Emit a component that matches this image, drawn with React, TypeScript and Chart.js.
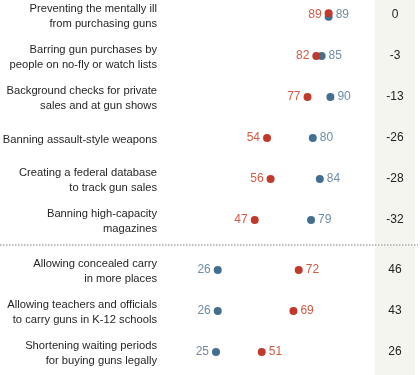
import React, { useEffect, useRef } from "react";
import { Chart, registerables } from "chart.js";

Chart.register(...registerables);

const categories: string[][] = [
  ["Preventing the mentally ill", "from purchasing guns"],
  ["Barring gun purchases by", "people on no-fly or watch lists"],
  ["Background checks for private", "sales and at gun shows"],
  ["Banning assault-style weapons"],
  ["Creating a federal database", "to track gun sales"],
  ["Banning high-capacity", "magazines"],
  ["Allowing concealed carry", "in more places"],
  ["Allowing teachers and officials", "to carry guns in K-12 schools"],
  ["Shortening waiting periods", "for buying guns legally"],
];
const repValues: number[] = [89, 82, 77, 54, 56, 47, 72, 69, 51];
const demValues: number[] = [89, 85, 90, 80, 84, 79, 26, 26, 25];
const diffLabels: string[] = ["0", "-3", "-13", "-26", "-28", "-32", "46", "43", "26"];
const groups: number[] = [0, 0, 0, 0, 0, 0, 1, 1, 1];

const GROUP_GAP = 0.22;
const TIE_NUDGE = 0.04;
const RED = "#c0392b";
const BLUE = "#436e8f";
const RED_TEXT = "#d45a44";
const BLUE_TEXT = "#6f8ca5";
const FONT = '"Liberation Sans", Arial, sans-serif';

const rowPos = categories.map((_, i) => i + groups[i] * GROUP_GAP);

export default function App() {
  const ref = useRef<HTMLCanvasElement | null>(null);

  useEffect(() => {
    if (!ref.current) return;
    const decor = {
      id: "decor",
      beforeDraw(chart: any) {
        const ctx = chart.ctx;
        const ys = chart.scales.y;
        ctx.save();
        ctx.fillStyle = "#f5f5ef";
        ctx.fillRect(375, 0, 40, chart.height);
        const firstG1 = groups.indexOf(1);
        const sepY = Math.round(ys.getPixelForValue((rowPos[firstG1 - 1] + rowPos[firstG1]) / 2));
        ctx.strokeStyle = "#bdbdbd";
        ctx.lineWidth = 2;
        ctx.setLineDash([1.5, 1.5]);
        ctx.beginPath();
        ctx.moveTo(0, sepY);
        ctx.lineTo(418, sepY);
        ctx.stroke();
        ctx.restore();
      },
      afterDatasetsDraw(chart: any) {
        const ctx = chart.ctx;
        const xs = chart.scales.x;
        const ys = chart.scales.y;
        ctx.save();
        ctx.textBaseline = "middle";
        categories.forEach((lines, i) => {
          const y = ys.getPixelForValue(rowPos[i]);
          ctx.font = "11.2px " + FONT;
          ctx.fillStyle = "#262626";
          ctx.textAlign = "right";
          const lh = 14.5;
          const startY = y + 1.5 - ((lines.length - 1) * lh) / 2;
          lines.forEach((ln, k) => ctx.fillText(ln, 157, startY + k * lh));
          ctx.font = "12px " + FONT;
          const r = repValues[i];
          const d = demValues[i];
          const rx = xs.getPixelForValue(r);
          const dx = xs.getPixelForValue(d);
          const redLeft = r <= d;
          ctx.fillStyle = RED_TEXT;
          ctx.textAlign = redLeft ? "right" : "left";
          ctx.fillText(String(r), redLeft ? rx - 7 : rx + 7, y);
          ctx.fillStyle = BLUE_TEXT;
          ctx.textAlign = redLeft ? "left" : "right";
          ctx.fillText(String(d), redLeft ? dx + 7 : dx - 7, y);
          ctx.fillStyle = "#222";
          ctx.textAlign = "center";
          ctx.fillText(diffLabels[i], 395, y);
        });
        ctx.restore();
      },
    };

    const chart = new Chart(ref.current, {
      type: "scatter",
      data: {
        datasets: [
          {
            label: "Rep",
            data: repValues.map((v, i) => ({ x: v, y: rowPos[i] - (v === demValues[i] ? TIE_NUDGE : 0) })),
            backgroundColor: RED,
            borderColor: RED,
            pointRadius: 4,
            borderWidth: 0,
            clip: false as any,
          },
          {
            label: "Dem",
            data: demValues.map((v, i) => ({ x: v, y: rowPos[i] + (v === repValues[i] ? TIE_NUDGE : 0) })),
            backgroundColor: BLUE,
            borderColor: BLUE,
            pointRadius: 4,
            borderWidth: 0,
            clip: false as any,
          },
        ],
      },
      options: {
        animation: false,
        responsive: false,
        events: [],
        layout: { padding: { left: 172, right: 72, top: 15, bottom: 23 } },
        plugins: { legend: { display: false }, tooltip: { enabled: false } },
        scales: {
          x: { type: "linear", min: 0, max: 100, display: false },
          y: { type: "linear", min: 0, max: rowPos[rowPos.length - 1], reverse: true, display: false },
        },
      },
      plugins: [decor],
    });
    return () => chart.destroy();
  }, []);

  return (
    <div style={{ position: "fixed", left: 0, top: 0, width: 420, height: 375, background: "#fff" }}>
      <canvas ref={ref} width={420} height={375} style={{ width: 420, height: 375, display: "block" }} />
    </div>
  );
}
